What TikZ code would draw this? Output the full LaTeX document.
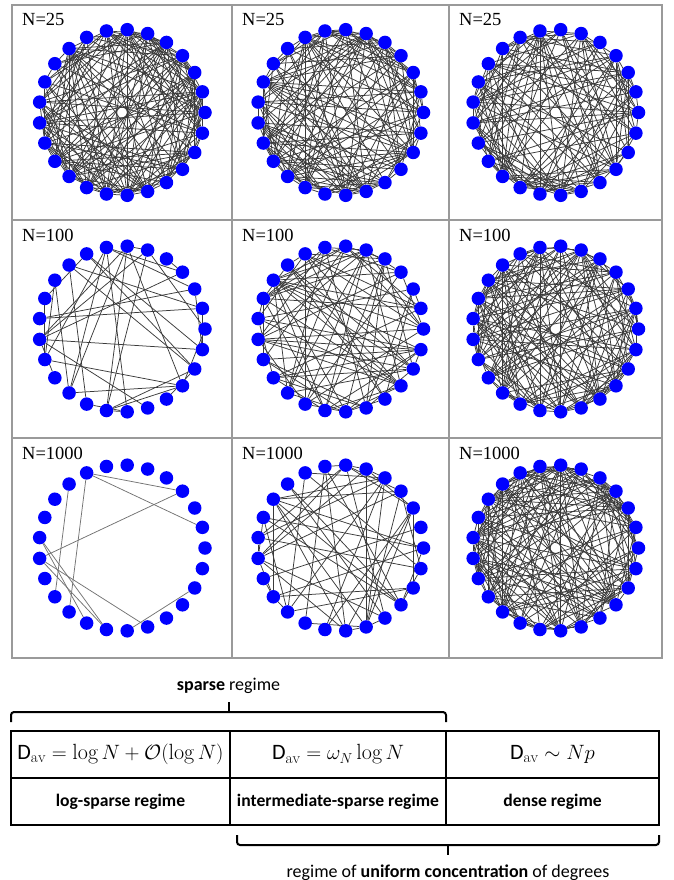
\documentclass[tikz,border=0pt]{standalone}
\usepackage{amsmath,amssymb}
\usepackage{fontspec}
\setsansfont{Carlito}
\newfontfamily\tnr{Liberation Serif}
\usepackage{tikz}
\usetikzlibrary{positioning,calc,backgrounds}
\definecolor{vblue}{HTML}{0000FF}
\definecolor{edgegray}{HTML}{3A3A3A}
\definecolor{gridgray}{HTML}{9A9A9A}

% 25 vertices on a circle round a cell
\newcommand\samplering[2]{%
  \foreach \k in {0,...,24}
    \node[vtx] (#1-\k) at ($(#2)+(-\k*14.4:83)$) {};}
% random edges: name, probability, seed
\newcommand\randedges[3]{%
  \pgfmathsetseed{#3}
  \begin{scope}[on background layer]
  \foreach \i in {0,...,23}{
    \pgfmathtruncatemacro\ii{\i+1}
    \foreach \j in {\ii,...,24}{
      \pgfmathsetmacro\rv{rnd}
      \ifdim\rv pt<#2pt\relax \draw[edge] (#1-\i) -- (#1-\j);\fi}}
  \end{scope}}

\begin{document}
\begin{tikzpicture}[x=1pt,y=-1pt,
  cellbox/.style={draw=gridgray,line width=1.2pt,inner sep=0pt,outer sep=0pt},
  vtx/.style={circle,fill=vblue,inner sep=0pt,minimum size=13.5pt},
  edge/.style={draw=edgegray,line width=0.75pt},
  nlbl/.style={anchor=base west,inner sep=0pt,font=\tnr\fontsize{18.5}{20}\selectfont},
  tcell/.style={draw,line width=1.3pt,minimum height=47pt,inner sep=0pt,outer sep=0pt,
                font=\fontsize{22}{24}\selectfont},
  lblrow/.style={font=\sffamily\bfseries\fontsize{17.6}{20}\selectfont},
  brace/.style={draw,line width=2pt,rounded corners=3pt},
  bracelbl/.style={anchor=base,inner sep=0pt,font=\sffamily\fontsize{18}{20}\selectfont}
]
\useasboundingbox (0,0) rectangle (673,880);

% grid of samples
\foreach \col/\cx/\w in {1/122/220,2/340.5/217,3/555.5/213}
  \foreach \row/\cy/\h/\nn in {1/112.5/215/25,2/329/218/100,3/548/220/1000}{
    \node[cellbox,minimum width=\w pt,minimum height=\h pt] (c\row\col) at (\cx,\cy) {};
    \node[nlbl] (n\row\col) at ($(c\row\col.north west)+(10,21)$) {N=\nn};
  }

\samplering{g11}{c11}\randedges{g11}{0.52}{11}
\samplering{g12}{c12}\randedges{g12}{0.5}{12}
\samplering{g13}{c13}\randedges{g13}{0.38}{13}
\samplering{g21}{c21}\randedges{g21}{0.15}{21}
\samplering{g22}{c22}\randedges{g22}{0.26}{22}
\samplering{g23}{c23}\randedges{g23}{0.45}{23}
\samplering{g31}{c31}
\begin{scope}[on background layer]
\foreach \a/\b in {8/3,8/1,8/16,9/15,3/13,12/17,12/18,13/18,13/20,19/23}
  \draw[edge,draw=gray!90!black] (g31-\a) -- (g31-\b);
\end{scope}
\samplering{g32}{c32}\randedges{g32}{0.2}{32}
\samplering{g33}{c33}\randedges{g33}{0.55}{33}

% table of regimes
\node[tcell,minimum width=219pt] (m1) at (120.5,754.5)
  {$\mathsf{D}_{\mathrm{av}}=\log N+\mathcal{O}(\log N)$};
\node[tcell,minimum width=216pt,right=0pt of m1] (m2) {$\mathsf{D}_{\mathrm{av}}=\omega_N\log N$};
\node[tcell,minimum width=213pt,right=0pt of m2] (m3) {$\mathsf{D}_{\mathrm{av}}\sim Np$};
\node[tcell,lblrow,minimum width=219pt,below=0pt of m1] (r1) {log-sparse regime};
\node[tcell,lblrow,minimum width=216pt,below=0pt of m2] (r2) {intermediate-sparse regime};
\node[tcell,lblrow,minimum width=213pt,below=0pt of m3] (r3) {dense regime};

% braces
\draw[brace] ($(m1.north west)+(0,-9)$) |- ($(m2.north east)+(0,-19)$) -- ++(0,10);
\coordinate (tt) at ($(m1.north west)!0.5!(m2.north east)+(0,-19)$);
\draw[brace] (tt) -- ++(0,-10);
\node[bracelbl] (sp) at ($(tt)+(0,-22)$) {\textbf{sparse} regime};

\draw[brace] ($(r2.south west)+(7,10)$) |- ($(r3.south east)+(0,20)$) -- ++(0,-10);
\coordinate (bt) at ($(r2.south west)!0.5!(r3.south east)+(3.5,20)$);
\draw[brace] (bt) -- ++(0,10);
\node[bracelbl] (uc) at ($(bt)+(0,32)$) {regime of \textbf{uniform concentration} of degrees};
\end{tikzpicture}
\end{document}
